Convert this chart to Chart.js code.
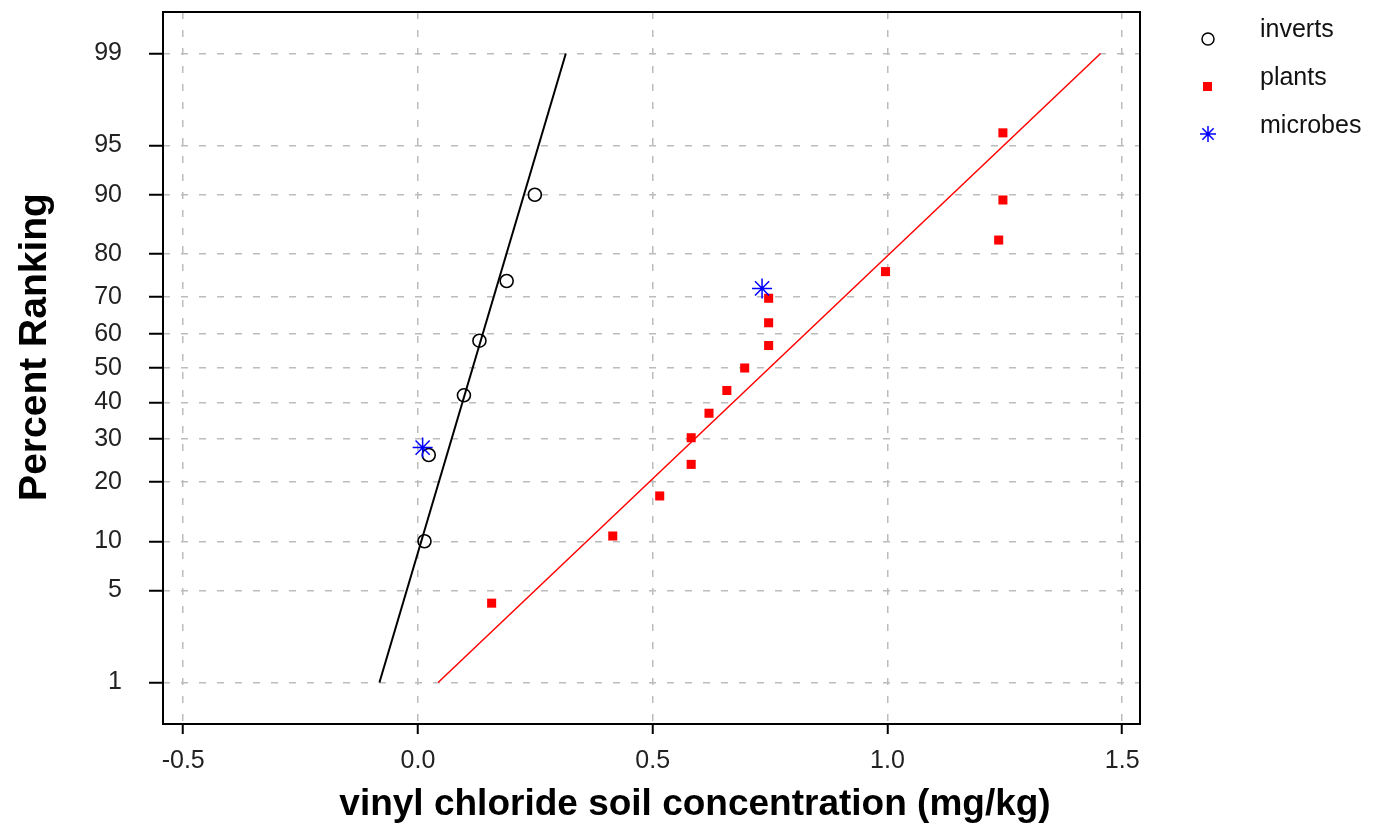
<!DOCTYPE html>
<html>
<head>
<meta charset="utf-8">
<title>Percent Ranking - vinyl chloride soil concentration</title>
<script src="https://cdn.jsdelivr.net/npm/chart.js@4.4.1/dist/chart.umd.min.js"></script>
<style>
  html, body { margin: 0; padding: 0; background: #fff; }
  #wrap { width: 1378px; height: 828px; position: relative; }
</style>
</head>
<body>
<div id="wrap"><canvas id="ssdChart"></canvas></div>

<script>
// values: x = concentration (mg/kg), pct = percent ranking
const invertsX   = [0.014, 0.023, 0.098, 0.131, 0.189, 0.249];
const invertsPct = [10, 26, 42, 58, 74, 90];

const plantsX   = [0.157, 0.415, 0.515, 0.582, 0.582, 0.620, 0.658, 0.696, 0.747, 0.747, 0.747, 0.996, 1.237, 1.246, 1.246];
const plantsPct = [4.1, 10.7, 17.2, 23.8, 30.3, 36.9, 43.4, 50.0, 56.6, 63.1, 69.7, 76.2, 82.8, 89.3, 95.9];

const microbesX   = [0.010, 0.733];
const microbesPct = [27.8, 72.2];

// fitted lines, end points at 1 % and 99 %
const invertsFitX = [-0.082, 0.315];
const plantsFitX  = [0.043, 1.454];
const fitPct      = [1, 99];

const xTicks   = [-0.5, 0.0, 0.5, 1.0, 1.5];
const yTickPct = [1, 5, 10, 20, 30, 40, 50, 60, 70, 80, 90, 95, 99];

// inverse normal cdf (Acklam) - the y axis is a probability scale
function probit(p) {
  const a = [-3.969683028665376e+01, 2.209460984245205e+02, -2.759285104469687e+02, 1.383577518672690e+02, -3.066479806614716e+01, 2.506628277459239e+00];
  const b = [-5.447609879822406e+01, 1.615858368580409e+02, -1.556989798598866e+02, 6.680131188771972e+01, -1.328068155288572e+01];
  const c = [-7.784894002430293e-03, -3.223964580411365e-01, -2.400758277161838e+00, -2.549732539343734e+00, 4.374664141464968e+00, 2.938163982698783e+00];
  const d = [7.784695709041462e-03, 3.224671290700398e-01, 2.445134137142996e+00, 3.754408661907416e+00];
  const pl = 0.02425;
  let q, r;
  if (p < pl) {
    q = Math.sqrt(-2 * Math.log(p));
    return (((((c[0]*q+c[1])*q+c[2])*q+c[3])*q+c[4])*q+c[5]) / ((((d[0]*q+d[1])*q+d[2])*q+d[3])*q+1);
  }
  if (p > 1 - pl) {
    q = Math.sqrt(-2 * Math.log(1 - p));
    return -(((((c[0]*q+c[1])*q+c[2])*q+c[3])*q+c[4])*q+c[5]) / ((((d[0]*q+d[1])*q+d[2])*q+d[3])*q+1);
  }
  q = p - 0.5; r = q * q;
  return (((((a[0]*r+a[1])*r+a[2])*r+a[3])*r+a[4])*r+a[5])*q / (((((b[0]*r+b[1])*r+b[2])*r+b[3])*r+b[4])*r+1);
}

function toPoints(xs, pcts) {
  return xs.map((x, i) => ({ x: x, y: probit(pcts[i] / 100) }));
}

const FONT = '"Liberation Sans", Arial, sans-serif';

// frame, axis titles and the legend on the right
const decorations = {
  id: 'decorations',
  afterDraw(chart) {
    const ctx = chart.ctx;
    const a = chart.chartArea;
    ctx.save();
    ctx.strokeStyle = '#000';
    ctx.lineWidth = 2;
    ctx.strokeRect(a.left, a.top, a.right - a.left, a.bottom - a.top);

    ctx.fillStyle = '#000';
    ctx.font = 'bold 37px ' + FONT;
    ctx.textAlign = 'center';
    ctx.textBaseline = 'alphabetic';
    ctx.fillText('vinyl chloride soil concentration (mg/kg)', 695, 815);

    ctx.save();
    ctx.translate(46, 347);
    ctx.rotate(-Math.PI / 2);
    ctx.font = 'bold 39px ' + FONT;
    ctx.fillText('Percent Ranking', 0, 0);
    ctx.restore();

    // legend
    ctx.font = '25px ' + FONT;
    ctx.textAlign = 'left';
    ctx.fillStyle = '#111';
    ctx.fillText('inverts', 1260, 37);
    ctx.fillText('plants', 1260, 85);
    ctx.fillText('microbes', 1260, 133);

    ctx.strokeStyle = '#000';
    ctx.lineWidth = 1.5;
    ctx.beginPath();
    ctx.arc(1208, 39, 6, 0, Math.PI * 2);
    ctx.stroke();

    ctx.fillStyle = '#ff0000';
    ctx.fillRect(1203, 82, 9, 9);

    ctx.strokeStyle = '#0000ff';
    ctx.beginPath();
    const sx = 1208, sy = 134, r = 8;
    ctx.moveTo(sx - r, sy); ctx.lineTo(sx + r, sy);
    ctx.moveTo(sx, sy - r); ctx.lineTo(sx, sy + r);
    const k = r * Math.SQRT1_2;
    ctx.moveTo(sx - k, sy - k); ctx.lineTo(sx + k, sy + k);
    ctx.moveTo(sx - k, sy + k); ctx.lineTo(sx + k, sy - k);
    ctx.stroke();
    ctx.restore();
  }
};

const gridOpts = {
  color: '#bcbcbc',
  lineWidth: 1.5,
  tickColor: '#000',
  tickWidth: 2
};

new Chart(document.getElementById('ssdChart'), {
  type: 'scatter',
  data: {
    datasets: [
      {
        label: 'microbes',
        data: toPoints(microbesX, microbesPct),
        pointStyle: 'star',
        radius: 10,
        borderColor: '#0000ff',
        backgroundColor: '#0000ff',
        borderWidth: 1.5
      },
      {
        label: 'inverts',
        data: toPoints(invertsX, invertsPct),
        pointStyle: 'circle',
        radius: 6.5,
        borderColor: '#000',
        backgroundColor: 'rgba(0,0,0,0)',
        borderWidth: 1.6
      },
      {
        label: 'plants',
        data: toPoints(plantsX, plantsPct),
        pointStyle: 'rect',
        radius: 6.4,
        borderColor: '#ff0000',
        backgroundColor: '#ff0000',
        borderWidth: 0
      },
      {
        label: 'inverts fit',
        data: toPoints(invertsFitX, fitPct),
        showLine: true,
        pointRadius: 0,
        borderColor: '#000',
        borderWidth: 2
      },
      {
        label: 'plants fit',
        data: toPoints(plantsFitX, fitPct),
        showLine: true,
        pointRadius: 0,
        borderColor: '#ff0000',
        borderWidth: 1.5
      }
    ]
  },
  options: {
    responsive: true,
    maintainAspectRatio: false,
    animation: false,
    layout: { padding: { top: 12, right: 238, left: 0, bottom: 0 } },
    plugins: {
      legend: { display: false },
      tooltip: { enabled: false }
    },
    scales: {
      x: {
        type: 'linear',
        min: -0.543,
        max: 1.538,
        afterBuildTicks: s => { s.ticks = xTicks.map(v => ({ value: v })); },
        afterFit: s => { s.height = 104; s.paddingLeft = 0; s.paddingRight = 0; },
        grid: Object.assign({}, gridOpts, { tickLength: 10 }),
        border: { display: false, dash: [7, 11] },
        ticks: {
          autoSkip: false,
          maxRotation: 0,
          padding: 12,
          color: '#222',
          font: { family: FONT, size: 25 },
          callback: v => v.toFixed(1)
        }
      },
      y: {
        type: 'linear',
        min: -2.633,
        max: 2.633,
        afterBuildTicks: s => { s.ticks = yTickPct.map(p => ({ value: probit(p / 100) })); },
        afterFit: s => { s.width = 163; s.paddingTop = 0; s.paddingBottom = 0; },
        grid: Object.assign({}, gridOpts, { tickLength: 14 }),
        border: { display: false, dash: [7, 11] },
        ticks: {
          autoSkip: false,
          padding: 27,
          color: '#222',
          font: { family: FONT, size: 25 },
          callback: (v, i) => String(yTickPct[i])
        }
      }
    }
  },
  plugins: [decorations]
});
</script>
</body>
</html>
